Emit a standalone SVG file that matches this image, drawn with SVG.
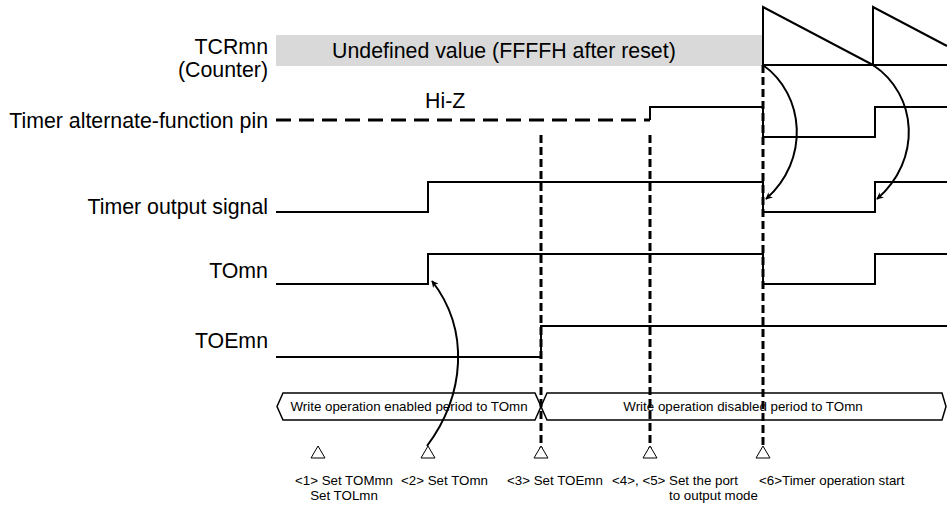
<svg xmlns="http://www.w3.org/2000/svg" width="947" height="506" viewBox="0 0 947 506">
<style>
.lbl{font-family:"Liberation Sans",Arial,sans-serif;font-size:21.33px;fill:#000;}
.sm{font-family:"Liberation Sans",Arial,sans-serif;font-size:13.33px;fill:#000;}
.sig{fill:none;stroke:#000;stroke-width:2;}
.hz{fill:none;stroke:#000;stroke-width:3;stroke-dasharray:15 8;}
.vd{fill:none;stroke:#000;stroke-width:3;stroke-dasharray:8 4;}
.arr{fill:none;stroke:#000;stroke-width:2;marker-end:url(#ah);}
.bar{fill:#fff;stroke:#000;stroke-width:1.5;}
.tri{fill:#fff;stroke:#000;stroke-width:1;}
</style>
<defs>
<marker id="ah" viewBox="0 0 10 10" refX="9" refY="5" markerWidth="7" markerHeight="7" markerUnits="userSpaceOnUse" orient="auto">
<path d="M0,0 L10,5 L0,10 L3,5 Z" fill="#000"/>
</marker>
</defs>
<rect width="947" height="506" fill="#fff"/>

<g id="tcr">
<text class="lbl" x="268" y="54" text-anchor="end">TCRmn</text>
<text class="lbl" x="268" y="77" text-anchor="end">(Counter)</text>
<rect x="276" y="35" width="487" height="31" fill="#d9d9d9"/>
<text class="lbl" x="332" y="58" fill="#333">Undefined value (FFFFH after reset)</text>
<polyline class="sig" points="763,65 763,7 873,65 873,7 947,46"/>
<line class="sig" x1="763" y1="65" x2="947" y2="65"/>
</g>

<g id="pin">
<text class="lbl" x="268" y="128" text-anchor="end">Timer alternate-function pin</text>
<text class="lbl" x="425" y="108">Hi-Z</text>
<line class="hz" x1="276" y1="120" x2="650" y2="120"/>
<polyline class="sig" points="650,120 650,107 763,107 763,137 875,137 875,107 947,107"/>
</g>

<g id="tos">
<text class="lbl" x="268" y="214" text-anchor="end">Timer output signal</text>
<polyline class="sig" points="276,212 428,212 428,182 763,182 763,212 875,212 875,182 947,182"/>
</g>

<g id="tomn">
<text class="lbl" x="268" y="278" text-anchor="end">TOmn</text>
<polyline class="sig" points="276,284 428,284 428,254 763,254 763,284 875,284 875,254 947,254"/>
</g>

<g id="toemn">
<text class="lbl" x="268" y="348" text-anchor="end">TOEmn</text>
<polyline class="sig" points="276,357 541,357 541,326 947,326"/>
</g>

<g id="periods">
<polygon class="bar" points="277,406.5 283,393 535,393 541,406.5 535,420 283,420"/>
<text class="sm" x="409" y="411" text-anchor="middle">Write operation enabled period to TOmn</text>
<polygon class="bar" points="541,406.5 547,393 942,393 946,406.5 942,420 547,420"/>
<text class="sm" x="743" y="411" text-anchor="middle">Write operation disabled period to TOmn</text>
</g>

<g id="connectors">
<line class="vd" x1="541" y1="135" x2="541" y2="448"/>
<line class="vd" x1="650" y1="135" x2="650" y2="448"/>
<line class="vd" x1="763" y1="65" x2="763" y2="448"/>
<path class="arr" d="M427,446 C465,395 470,330 432,281"/>
<path class="arr" d="M763,65 C805,95 810,160 766,199"/>
<path class="arr" d="M873,65 C918,95 922,160 877,199"/>
</g>

<g id="steps">
<polygon class="tri" points="318,446 311,458 325,458"/>
<polygon class="tri" points="428,446 421,458 435,458"/>
<polygon class="tri" points="541,446 534,458 548,458"/>
<polygon class="tri" points="650,446 643,458 657,458"/>
<polygon class="tri" points="763,446 756,458 770,458"/>
<text class="sm" x="344" y="485" text-anchor="middle">&lt;1&gt; Set TOMmn</text>
<text class="sm" x="344" y="500" text-anchor="middle">Set TOLmn</text>
<text class="sm" x="401" y="485">&lt;2&gt; Set TOmn</text>
<text class="sm" x="507" y="485">&lt;3&gt; Set TOEmn</text>
<text class="sm" x="612" y="485">&lt;4&gt;, &lt;5&gt; Set the port</text>
<text class="sm" x="669" y="500">to output mode</text>
<text class="sm" x="759" y="485">&lt;6&gt;Timer operation start</text>
</g>
</svg>
